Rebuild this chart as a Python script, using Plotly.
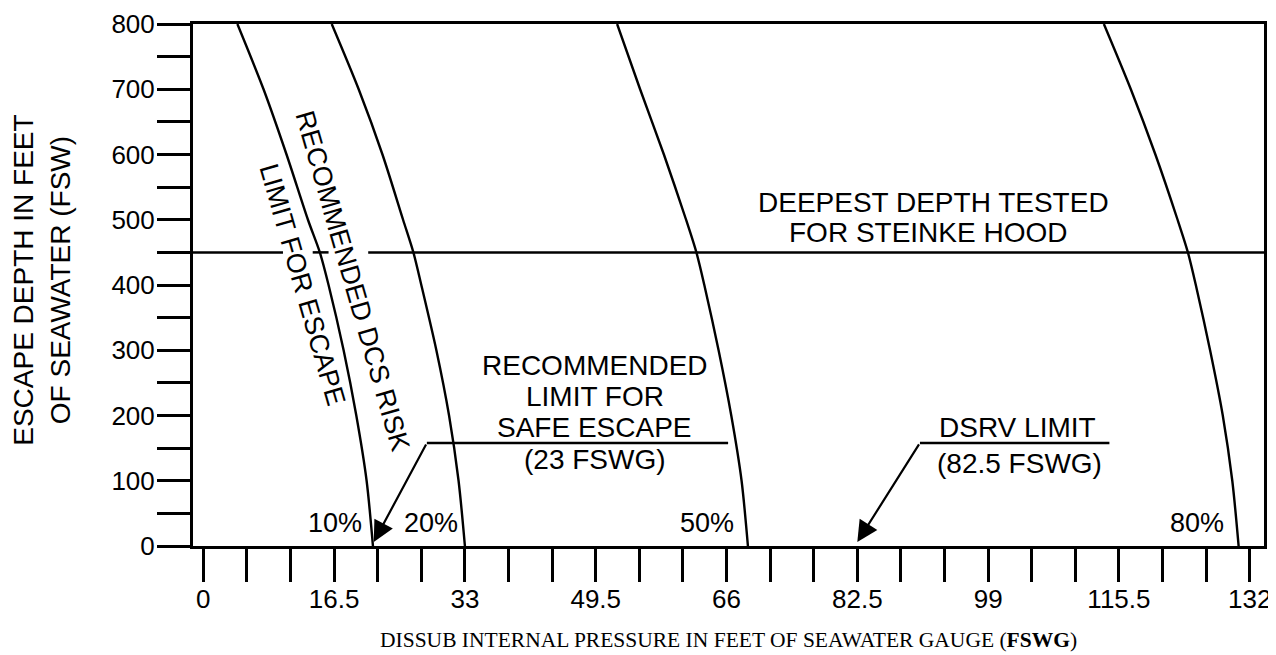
import plotly.graph_objects as go

# ---------------- data ----------------
depths = [0, 100, 200, 300, 400, 450, 500, 600, 700, 800]          # escape depth, fsw
risk_10 = [21.4, 20.6, 19.3, 17.7, 15.8, 14.7, 13.2, 10.5, 7.6, 4.3]   # dissub pressure, fswg
risk_20 = [33.0, 32.2, 31.0, 29.4, 27.5, 26.5, 25.2, 22.6, 19.6, 16.2]
risk_50 = [68.7, 67.9, 66.6, 65.0, 63.2, 62.2, 60.9, 58.1, 55.1, 52.2]
risk_80 = [130.6, 129.8, 128.6, 127.0, 125.2, 124.2, 122.9, 120.1, 117.0, 113.6]
risk_names = ["10%", "20%", "50%", "80%"]
risk_label_x = [16.6, 28.7, 63.6, 125.4]

x_tick_vals = [0, 16.5, 33, 49.5, 66, 82.5, 99, 115.5, 132]
x_tick_text = ["0", "16.5", "33", "49.5", "66", "82.5", "99", "115.5", "132"]
y_tick_vals = [0, 100, 200, 300, 400, 500, 600, 700, 800]

deepest_depth = 450                       # deepest depth tested for Steinke hood
deepest_line_x = [-1.3, 10.05, None, 13.8, 15.8, None, 20.8, 133.8]  # broken where text crosses

# leader lines: [safe escape (23 FSWG), DSRV limit (82.5 FSWG)]
leader_tip_x = [21.5, 82.5]
leader_elbow_x = [28.2, 90.4]
leader_end_x = [66.2, 114.3]
leader_y = 158

FONT = "Liberation Sans, Arial, Helvetica, sans-serif"
FS = 27

fig = go.Figure()

for xs in (risk_10, risk_20, risk_50, risk_80):
    fig.add_trace(go.Scatter(x=xs, y=depths, mode="lines",
                             line=dict(color="black", width=2.4, shape="spline", smoothing=0.8),
                             hoverinfo="skip", showlegend=False))

fig.add_trace(go.Scatter(x=deepest_line_x, y=[deepest_depth if v is not None else None for v in deepest_line_x],
                         mode="lines", line=dict(color="black", width=2.5),
                         connectgaps=False, hoverinfo="skip", showlegend=False))

for ex, ee in zip(leader_elbow_x, leader_end_x):
    fig.add_trace(go.Scatter(x=[ex, ee], y=[leader_y, leader_y], mode="lines",
                             line=dict(color="black", width=2.5), hoverinfo="skip", showlegend=False))

ann = []
for tx, ex in zip(leader_tip_x, leader_elbow_x):
    ann.append(dict(x=tx, y=6, xref="x", yref="y", ax=ex, ay=leader_y, axref="x", ayref="y",
                    text="", showarrow=True, arrowhead=2, arrowsize=1.9, arrowwidth=2.2,
                    arrowcolor="black", standoff=0))

def txt(x, y, s, size=FS, **kw):
    d = dict(x=x, y=y, xref="x", yref="y", text=s, showarrow=False,
             font=dict(family=FONT, size=size, color="black"),
             xanchor="center", yanchor="middle")
    d.update(kw)
    ann.append(d)

for name, lx in zip(risk_names, risk_label_x):
    txt(lx, 35, name)

txt(92.1, 526, "DEEPEST DEPTH TESTED", size=28)
txt(91.4, 480, "FOR STEINKE HOOD", size=28)

txt(49.4, 277, "RECOMMENDED", size=28)
txt(49.4, 229, "LIMIT FOR", size=28)
txt(49.4, 181, "SAFE ESCAPE", size=28)
txt(49.4, 132, "(23 FSWG)", size=28)

txt(102.7, 181, "DSRV LIMIT", size=28)
txt(102.9, 127, "(82.5 FSWG)", size=28)

txt(18.8, 406, "RECOMMENDED DCS RISK", textangle=74)
txt(12.5, 400, "LIMIT FOR ESCAPE", textangle=74)

# axis titles
ann.append(dict(x=-0.141, y=0.51, xref="paper", yref="paper", showarrow=False,
                text="ESCAPE DEPTH IN FEET<br>OF SEAWATER (FSW)", textangle=-90,
                font=dict(family=FONT, size=28, color="black"),
                xanchor="center", yanchor="middle"))
ann.append(dict(x=0.5, y=-0.180, xref="paper", yref="paper", showarrow=False,
                text="DISSUB INTERNAL PRESSURE IN FEET OF SEAWATER GAUGE (<b>FSWG</b>)",
                font=dict(family="Liberation Serif, Times New Roman, serif", size=21.5, color="black"),
                xanchor="center", yanchor="middle"))

# the page body has an 8px default margin, so the figure is 8px smaller
fig.update_layout(
    width=1268, height=647,
    margin=dict(l=185, r=12, t=16, b=109, autoexpand=False),
    paper_bgcolor="white", plot_bgcolor="white",
    showlegend=False,
    annotations=ann,
    xaxis=dict(range=[-1.3, 133.8], tickmode="array", tickvals=x_tick_vals, ticktext=x_tick_text,
               ticks="outside", ticklen=33, tickwidth=3, tickcolor="black",
               minor=dict(dtick=5.5, tick0=0, ticks="outside", ticklen=33, tickwidth=2.5, tickcolor="black"),
               showline=True, linewidth=3, linecolor="black", mirror=True, automargin=False,
               showgrid=False, zeroline=False, ticklabelstandoff=-5,
               tickfont=dict(family=FONT, size=26, color="black")),
    yaxis=dict(range=[0, 800], tickmode="array", tickvals=y_tick_vals,
               ticks="outside", ticklen=33, tickwidth=3, tickcolor="black",
               minor=dict(dtick=50, tick0=0, ticks="outside", ticklen=33, tickwidth=3, tickcolor="black"),
               showline=True, linewidth=3, linecolor="black", mirror=True, automargin=False,
               showgrid=False, zeroline=False, ticklabelstandoff=-3,
               tickfont=dict(family=FONT, size=26, color="black")),
)

fig.write_html("out.html")
